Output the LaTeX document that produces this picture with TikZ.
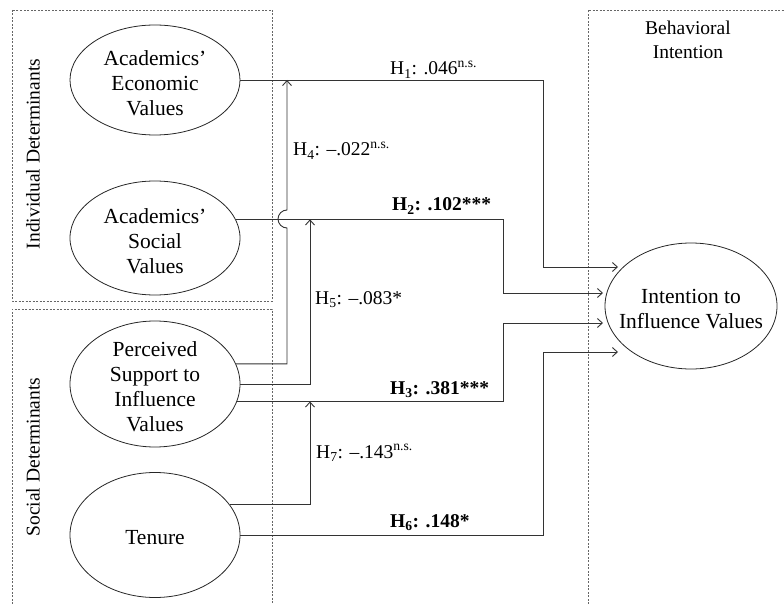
\documentclass[tikz,border=0pt]{standalone}
\usepackage{fontspec}
\setmainfont{Liberation Serif}
\usepackage{tikz}
\usetikzlibrary{shapes.geometric}
\usetikzlibrary{arrows.meta}
\tikzset{>={Straight Barb[length=5pt,width=9pt]}}
\tikzset{
  construct/.style={ellipse, draw=black!85, line width=0.8pt, inner sep=0pt,
    minimum width=170pt,
    label={[align=center, yshift=-3pt, font=\fontsize{21.5}{25}\selectfont]center:#1}},
  grp/.style={draw=black!60, line width=0.6pt, dash pattern=on 2pt off 1.5pt},
  grplabel/.style={font=\fontsize{19.5}{24}\selectfont, align=center},
  hyp/.style={->, draw=black!80, line width=0.9pt},
  coef/.style={anchor=base west, inner sep=0pt, font=\fontsize{19.5}{23}\selectfont}
}

\begin{document}
\begin{tikzpicture}[x=1pt,y=-1pt]
    \useasboundingbox (0,0) rectangle (784,604);
    % dashed groups
    \draw[grp] (12,10) rectangle (272,301);
    \draw[grp] (12,604) -- (12,309) -- (272,309) -- (272,604);
    \draw[grp] (588,604) -- (588,10) -- (784,10);
    \node[grplabel, rotate=90] (indiv) at (33,154) {Individual Determinants};
    \node[grplabel, rotate=90] (soc) at (33,457) {Social Determinants};
    \node[grplabel] (behav) at (688,40) {Behavioral\\Intention};
    % constructs
    \node[construct={Academics'\\Economic\\Values}, minimum height=110pt] (econ) at (155,80) {};
    \node[construct={Academics'\\Social\\Values}, minimum height=114pt] (social) at (155,238) {};
    \node[construct={Perceived\\Support to\\Influence\\Values}, minimum height=126pt] (support) at (155,384) {};
    \node[construct={Tenure}, minimum height=125pt] (tenure) at (155,535) {};
    \node[construct={Intention to\\Influence Values}, minimum width=172pt, minimum height=126pt] (intent) at (691,306) {};
    \coordinate (colA) at (543,0);
    \coordinate (colB) at (503,0);
    \coordinate (colC) at (287,0);
    \coordinate (colD) at (310,0);
    \coordinate (tipA) at (618,267);
    \coordinate (tipB) at (603,293);
    \coordinate (tipC) at (603,323);
    \coordinate (tipD) at (618,352);
    \coordinate (hop) at (287,228);
    % paths
    \draw[hyp] (econ.east) -| (colA |- tipA) -- (tipA);
    \draw[hyp] (social.13) -| (colB |- tipB) -- (tipB);
    \draw[hyp] (support.-12) -| (colB |- tipC) -- (tipC);
    \draw[hyp] (tenure.east) -| (colA |- tipD) -- (tipD);
    \draw[hyp] (support.14) -| (hop) arc[start angle=90, end angle=270, radius=9] -- (colC |- econ.east);
    \draw[hyp] (support.east) -| (colD |- social.13);
    \draw[hyp] (tenure.22) -| (colD |- support.-12);
    % coefficients
    \node[coef] (h1) at (390,75) {H\textsubscript{1}: .046\textsuperscript{n.s.}};
    \node[coef] (h2) at (392,211) {\textbf{H\textsubscript{2}: .102***}};
    \node[coef] (h3) at (390,394) {\textbf{H\textsubscript{3}: .381***}};
    \node[coef] (h6) at (390,527) {\textbf{H\textsubscript{6}: .148*}};
    \node[coef] (h4) at (293,156) {H\textsubscript{4}: --.022\textsuperscript{n.s.}};
    \node[coef] (h5) at (315,304) {H\textsubscript{5}: --.083*};
    \node[coef] (h7) at (316,458) {H\textsubscript{7}: --.143\textsuperscript{n.s.}};
\end{tikzpicture}
\end{document}
